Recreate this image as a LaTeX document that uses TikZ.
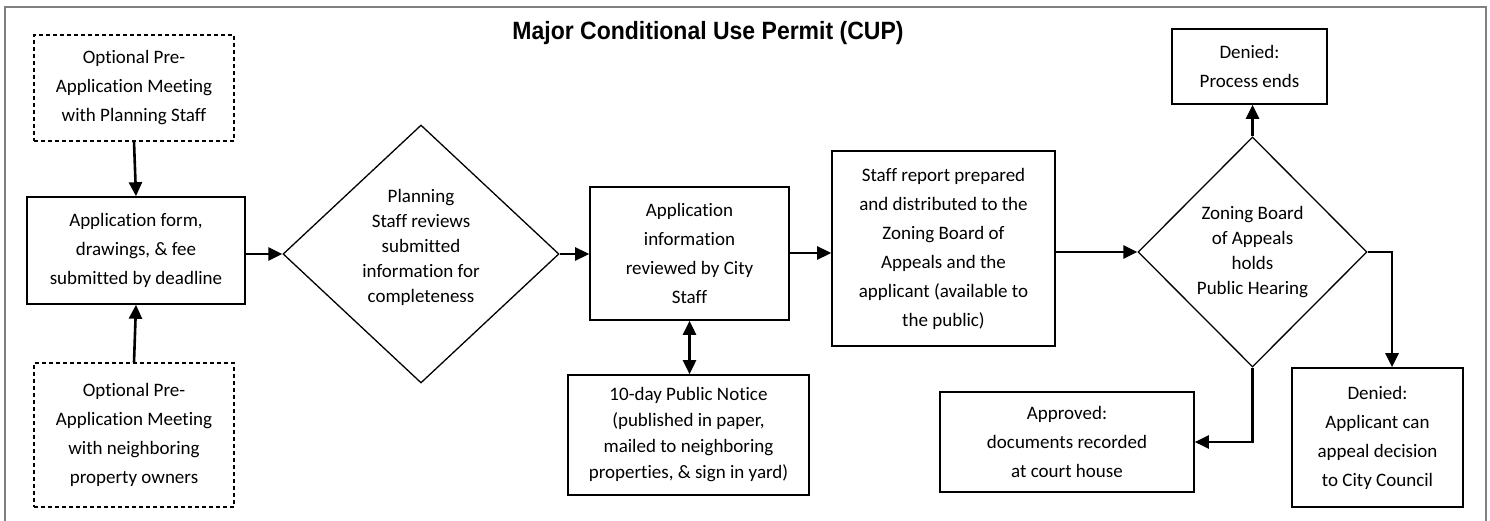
\documentclass[tikz,border=0pt]{standalone}
\usepackage{fontspec}
\setmainfont{Carlito}[Ligatures={NoCommon}]
\newfontfamily\titlefont{Liberation Sans}
\usetikzlibrary{shapes.geometric,arrows.meta}
\begin{document}
\begin{tikzpicture}[x=1pt,y=-1pt,
  txt/.style={font=\fontsize{19pt}{29pt}\selectfont,align=center,inner sep=0pt},
  box/.style 2 args={txt,draw,line width=1.6pt,rectangle,minimum width=#1pt,minimum height=#2pt},
  dbox/.style 2 args={box={#1}{#2},line width=1.2pt,dash pattern=on 4pt off 3pt},
  dec/.style 2 args={txt,draw,line width=1.3pt,diamond,minimum width=#1pt,minimum height=#2pt,font=\fontsize{19pt}{25pt}\selectfont},
  arr/.style={line width=2.6pt,-{Triangle[length=14pt,width=13pt]}},
  darr/.style={line width=2.6pt,{Triangle[length=14pt,width=13pt]}-{Triangle[length=14pt,width=13pt]}},
  frame/.style={draw=black!50,line width=1.6pt}]
\useasboundingbox (0,0) rectangle (1490,521);
\draw[frame] (5,521) -- (5,7) -- (1486,7) -- (1486,521);

\node[txt,font=\titlefont\bfseries\fontsize{25pt}{30pt}\selectfont] (title) at (708,33) {\scalebox{0.92}[1]{Major Conditional Use Permit (CUP)}};

\node[dbox={200}{106}] (pre1) at (134,88) {Optional Pre-\\Application Meeting\\with Planning Staff};
\node[box={218}{107}] (app) at (136,250.5) {Application form,\\drawings, \& fee\\submitted by deadline};
\node[dbox={200}{144}] (pre2) at (134,435) {Optional Pre-\\Application Meeting\\with neighboring\\property owners};
\node[dec={276}{258}] (dia1) at (421,254) {};
\node[txt,font=\fontsize{19pt}{25pt}\selectfont] (dia1txt) at (421,247.5) {Planning\\Staff reviews\\submitted\\information for\\completeness};
\node[box={199}{133}] (review) at (689.5,253.5) {Application\\information\\reviewed by City\\Staff};
\node[box={241}{120},font=\fontsize{19pt}{26pt}\selectfont] (notice) at (688.5,435) {10-day Public Notice\\(published in paper,\\mailed to neighboring\\properties, \& sign in yard)};
\node[box={223}{195}] (report) at (943.5,248.5) {Staff report prepared\\and distributed to the\\Zoning Board of\\Appeals and the\\applicant (available to\\the public)};
\node[dec={229}{230}] (dia2) at (1252.5,252) {Zoning Board\\of Appeals\\holds\\Public Hearing};
\node[box={155}{75}] (den1) at (1249.5,66.5) {Denied:\\Process ends};
\node[box={171}{139}] (den2) at (1377.5,437.5) {Denied:\\Applicant can\\appeal decision\\to City Council};
\node[box={254}{100}] (appr) at (1067,442) {Approved:\\documents recorded\\at court house};

\draw[arr] (pre1.south) -- (app.north);
\draw[arr] (pre2.north) -- (app.south);
\draw[arr] (app.east |- dia1.west) -- (dia1.west);
\draw[arr] (dia1.east) -- (dia1.east -| review.west);
\draw[darr] (review.south) -- (review.south |- notice.north);
\draw[arr] (review.east |- 0,253) -- (report.west |- 0,253);
\draw[arr] (report.east |- dia2.west) -- (dia2.west);
\draw[arr] (dia2.north) -- (dia2.north |- den1.south);
\draw[arr] (dia2.east) -| ([xshift=14.5pt]den2.north);
\draw[arr] (dia2.south) |- (appr.east);
\end{tikzpicture}
\end{document}
